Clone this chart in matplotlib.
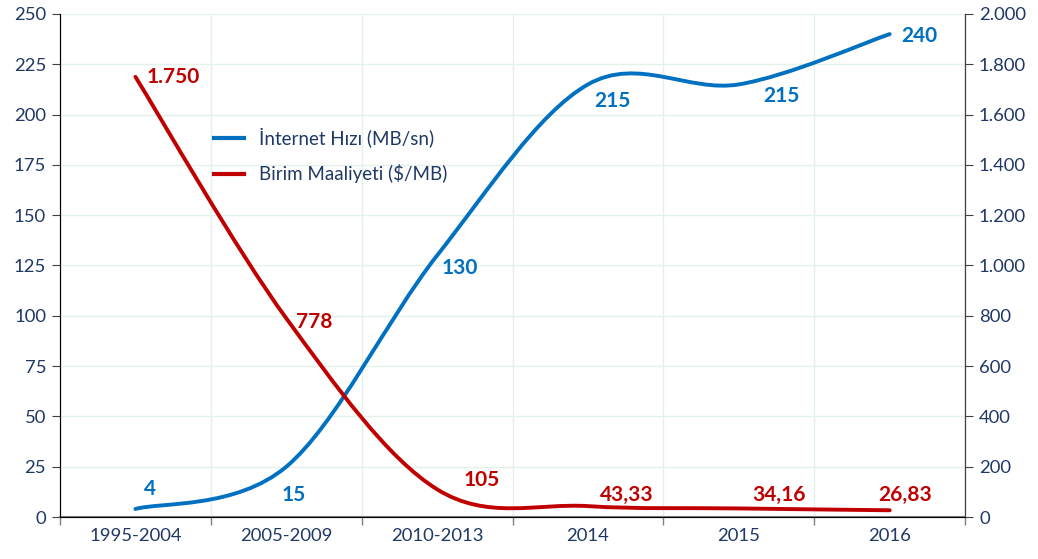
import matplotlib
matplotlib.use('Agg')
import matplotlib.pyplot as plt
from matplotlib.path import Path
from matplotlib.patches import PathPatch
from matplotlib.lines import Line2D
from matplotlib.ticker import FuncFormatter, FixedLocator

plt.rcParams['font.family'] = ['Lato', 'DejaVu Sans']

kategoriler = ['1995-2004', '2005-2009', '2010-2013', '2014', '2015', '2016']
hiz = [4, 25, 130, 215, 215, 240]                    # MB/sn, sol eksen (cizgi)
maliyet = [1750, 790, 110, 43.33, 34.16, 26.83]      # $/MB, sag eksen (cizgi)
hiz_etiket = ['4', '15', '130', '215', '215', '240']
maliyet_etiket = ['1.750', '778', '105', '43,33', '34,16', '26,83']

MAVI = '#0070C0'
KIRMIZI = '#C00000'
LACI = '#1F3864'
IZGARA = '#E2F2E7'


def yumusak_yol(xs, ys):
    # Excel tarzi yumusatilmis cizgi (Catmull-Rom -> Bezier)
    n = len(xs)
    verts = [(xs[0], ys[0])]
    codes = [Path.MOVETO]
    for i in range(n - 1):
        i0 = max(i - 1, 0)
        i3 = min(i + 2, n - 1)
        c1 = (xs[i] + (xs[i + 1] - xs[i0]) / 6, ys[i] + (ys[i + 1] - ys[i0]) / 6)
        c2 = (xs[i + 1] - (xs[i3] - xs[i]) / 6, ys[i + 1] - (ys[i3] - ys[i]) / 6)
        verts += [c1, c2, (xs[i + 1], ys[i + 1])]
        codes += [Path.CURVE4] * 3
    return Path(verts, codes)


fig = plt.figure(figsize=(10.38, 5.59), dpi=100)
ax = fig.add_axes([0.0578, 0.0751, 0.872, 0.8999])
ax2 = ax.twinx()

x = list(range(len(kategoriler)))

ax.add_patch(PathPatch(yumusak_yol(x, hiz), facecolor='none', edgecolor=MAVI,
                       lw=2.8, capstyle='round', zorder=3))
ax2.add_patch(PathPatch(yumusak_yol(x, maliyet), facecolor='none', edgecolor=KIRMIZI,
                        lw=2.8, capstyle='round', zorder=3))

ax.set_xlim(-0.5, len(kategoriler) - 0.5)
ax.set_ylim(0, 250)
ax2.set_ylim(0, 2000)
ax.set_yticks(range(0, 251, 25))
ax2.set_yticks(range(0, 2001, 200))
ax2.yaxis.set_major_formatter(FuncFormatter(lambda v, p: f'{int(v):,}'.replace(',', '.')))

# kategori sinirlarinda tik, ortalarinda etiket
ax.xaxis.set_major_locator(FixedLocator([i + 0.5 for i in range(-1, len(kategoriler))]))
ax.xaxis.set_minor_locator(FixedLocator(x))
ax.set_xticklabels([])
ax.set_xticklabels(kategoriler, minor=True)
ax.tick_params(axis='x', which='major', length=6, color='#808080', width=1)
ax.tick_params(axis='x', which='minor', length=0, pad=8, labelsize=13.3, labelcolor=LACI)
ax.tick_params(axis='y', length=6, color='#404040', labelsize=13.3, labelcolor=LACI, pad=4)
ax2.tick_params(axis='y', length=6, color='#404040', labelsize=13.3, labelcolor=LACI, pad=4)

ax.grid(True, which='major', color=IZGARA, lw=1)
ax.set_axisbelow(True)
ax.spines['top'].set_visible(False)
ax2.spines['top'].set_visible(False)
ax.spines['left'].set_color('#404040')
ax2.spines['right'].set_color('#404040')
ax.spines['bottom'].set_color('#808080')
ax.spines['bottom'].set_linewidth(1.5)

# veri etiketleri (piksel ofsetleri)
hiz_ofset = [(15, 20), (7, -28), (23, -13), (24, -17), (43, -12), (30, -2)]
mal_ofset = [(38, 0), (28, -4), (45, 9), (39, 11), (40, 13), (15, 15)]
for i in x:
    dx, dy = hiz_ofset[i]
    ax.annotate(hiz_etiket[i], (i, hiz[i]), xytext=(dx * 0.72, dy * 0.72),
                textcoords='offset points', ha='center', va='center',
                color=MAVI, fontsize=15, fontweight='bold', zorder=5)
    dx, dy = mal_ofset[i]
    ax2.annotate(maliyet_etiket[i], (i, maliyet[i]), xytext=(dx * 0.72, dy * 0.72),
                 textcoords='offset points', ha='center', va='center',
                 color=KIRMIZI, fontsize=15, fontweight='bold', zorder=5)

tutamac = [Line2D([], [], color=MAVI, lw=3),
           Line2D([], [], color=KIRMIZI, lw=3)]
leg = ax.legend(tutamac, ['İnternet Hızı (MB/sn)', 'Birim Maaliyeti ($/MB)'],
                loc='upper left', bbox_to_anchor=(0.151, 0.807), frameon=False,
                fontsize=13.5, handlelength=1.6, labelspacing=0.88, handletextpad=0.8)
for t in leg.get_texts():
    t.set_color(LACI)

fig.savefig('out.png', dpi=100)
plt.close(fig)
